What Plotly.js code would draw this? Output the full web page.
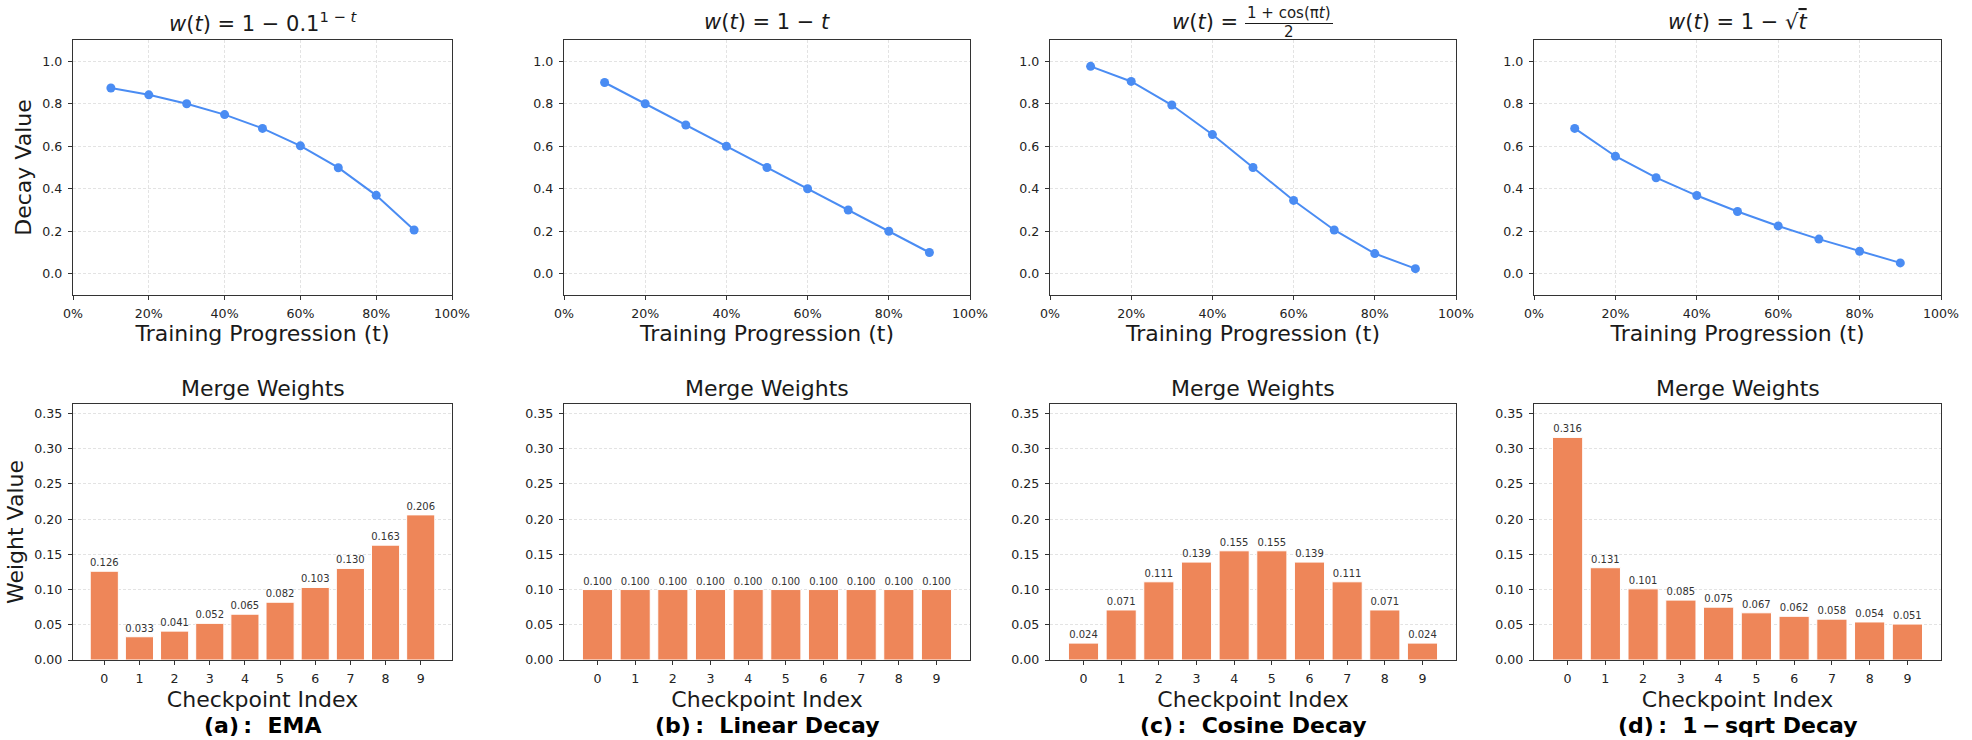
<!DOCTYPE html>
<html>
<head>
<meta charset="utf-8">
<script src="https://cdn.plot.ly/plotly-3.0.1.min.js"></script>
<style>
html,body{margin:0;padding:0;background:#fff;}
#chart{width:1972px;height:740px;}
</style>
</head>
<body>
<div id="chart"></div>
<script>
// ---------- data ----------
const progress = [0.1, 0.2, 0.3, 0.4, 0.5, 0.6, 0.7, 0.8, 0.9];
const decayEMA    = [0.874, 0.842, 0.800, 0.749, 0.684, 0.602, 0.499, 0.369, 0.206];
const decayLinear = [0.900, 0.800, 0.700, 0.600, 0.500, 0.400, 0.300, 0.200, 0.100];
const decayCosine = [0.976, 0.905, 0.794, 0.655, 0.500, 0.345, 0.206, 0.095, 0.024];
const decaySqrt   = [0.684, 0.553, 0.452, 0.368, 0.293, 0.225, 0.163, 0.106, 0.051];

const checkpoints = [0, 1, 2, 3, 4, 5, 6, 7, 8, 9];
const weightsEMA    = [0.126, 0.033, 0.041, 0.052, 0.065, 0.082, 0.103, 0.130, 0.163, 0.206];
const weightsLinear = [0.100, 0.100, 0.100, 0.100, 0.100, 0.100, 0.100, 0.100, 0.100, 0.100];
const weightsCosine = [0.024, 0.071, 0.111, 0.139, 0.155, 0.155, 0.139, 0.111, 0.071, 0.024];
const weightsSqrt   = [0.316, 0.131, 0.101, 0.085, 0.075, 0.067, 0.062, 0.058, 0.054, 0.051];

const progressTicks = [0, 0.2, 0.4, 0.6, 0.8, 1.0];
const decayTicks = [0, 0.2, 0.4, 0.6, 0.8, 1.0];
const weightTicks = [0, 0.05, 0.10, 0.15, 0.20, 0.25, 0.30, 0.35];

const panelLabels = [
  "(a)\u2009:\u00a0\u00a0EMA",
  "(b)\u2009:\u00a0\u00a0Linear Decay",
  "(c)\u2009:\u00a0\u00a0Cosine Decay",
  "(d)\u2009:\u00a0\u00a01\u2009\u2212\u2009sqrt Decay"
];
const decaySeries = [decayEMA, decayLinear, decayCosine, decaySqrt];
const weightSeries = [weightsEMA, weightsLinear, weightsCosine, weightsSqrt];

// ---------- layout helpers ----------
const W = 1972, H = 740;
const FONT = "DejaVu Sans, Liberation Sans, sans-serif";
const LINE_COLOR = "#4a8cf3";
const BAR_COLOR = "#ee8659";
const TXT = "#1a1a1a";
const colsPx = [[73, 452], [564, 970], [1050, 1456], [1534, 1941]];
const topRowPx = [40, 295];
const botRowPx = [404, 660];
const pxX = x => x / W;
const pxY = y => 1 - y / H;

const traces = [];
const layout = {
  width: W, height: H,
  margin: {l: 0, r: 0, t: 0, b: 0},
  paper_bgcolor: "#ffffff",
  plot_bgcolor: "#ffffff",
  showlegend: false,
  font: {family: FONT, color: TXT, size: 12.6},
  annotations: [],
  shapes: []
};

function axisBase() {
  return {
    showline: true, mirror: true, linecolor: "#333333", linewidth: 1.2,
    ticks: "outside", ticklen: 4, tickwidth: 1, tickcolor: "#333333",
    ticklabelstandoff: 3,
    tickfont: {family: FONT, size: 12.6, color: "#222222"},
    zeroline: false, fixedrange: true,
    gridcolor: "#dcdcdc", gridwidth: 0.8, griddash: "3px,2px"
  };
}

for (let i = 0; i < 4; i++) {
  const n = i + 1, m = i + 5;
  const xs = n === 1 ? "" : String(n);
  const xb = String(m);
  const dom = [pxX(colsPx[i][0]), pxX(colsPx[i][1])];

  // top: decay curve
  traces.push({
    type: "scatter", mode: "lines+markers",
    x: progress, y: decaySeries[i],
    xaxis: "x" + xs, yaxis: "y" + xs,
    line: {color: LINE_COLOR, width: 2},
    marker: {color: LINE_COLOR, size: 9},
    cliponaxis: false, hoverinfo: "x+y"
  });
  layout["xaxis" + xs] = Object.assign(axisBase(), {
    domain: dom, anchor: "y" + xs, range: [0, 1],
    tickvals: progressTicks, tickformat: ".0%", showgrid: true,
    title: {text: "Training Progression (t)", font: {family: FONT, size: 22, color: TXT}, standoff: 5}
  });
  const yTop = Object.assign(axisBase(), {
    domain: [pxY(topRowPx[1]), pxY(topRowPx[0])], anchor: "x" + xs,
    range: [-0.1, 1.1], tickvals: decayTicks, tickformat: ".1f", showgrid: true
  });
  if (i === 0) yTop.title = {text: "Decay Value", font: {family: FONT, size: 22, color: TXT}, standoff: 4};
  layout["yaxis" + xs] = yTop;

  // bottom: merge weights
  traces.push({
    type: "bar", x: checkpoints, y: weightSeries[i],
    xaxis: "x" + xb, yaxis: "y" + xb,
    width: 0.8,
    marker: {color: BAR_COLOR, line: {color: "#ffffff", width: 1}},
    text: weightSeries[i].map(v => v.toFixed(3)),
    textposition: "outside", constraintext: "none", cliponaxis: false,
    textfont: {family: FONT, size: 10, color: "#333333"},
    hoverinfo: "x+y"
  });
  layout["xaxis" + xb] = Object.assign(axisBase(), {
    domain: dom, anchor: "y" + xb, range: [-0.89, 9.89],
    tickvals: checkpoints, showgrid: false,
    title: {text: "Checkpoint Index", font: {family: FONT, size: 22, color: TXT}, standoff: 6}
  });
  const yBot = Object.assign(axisBase(), {
    domain: [pxY(botRowPx[1]), pxY(botRowPx[0])], anchor: "x" + xb,
    range: [0, 0.3634], tickvals: weightTicks, tickformat: ".2f", showgrid: true
  });
  if (i === 0) yBot.title = {text: "Weight Value", font: {family: FONT, size: 22, color: TXT}, standoff: 4};
  layout["yaxis" + xb] = yBot;

  const cx = pxX((colsPx[i][0] + colsPx[i][1]) / 2);
  layout.annotations.push({
    xref: "paper", yref: "paper", x: cx, y: pxY(388), xanchor: "center", yanchor: "middle",
    text: "Merge Weights", showarrow: false, font: {family: FONT, size: 22, color: TXT}
  });
  layout.annotations.push({
    xref: "paper", yref: "paper", x: cx, y: pxY(725), xanchor: "center", yanchor: "middle",
    text: "<b>" + panelLabels[i] + "</b>", showarrow: false, font: {family: FONT, size: 22, color: "#000"}
  });
}

// formula titles
const titleFont = {family: FONT, size: 21, color: TXT};
function colCenter(i) { return pxX((colsPx[i][0] + colsPx[i][1]) / 2); }
layout.annotations.push({
  xref: "paper", yref: "paper", x: colCenter(0), y: pxY(22), xanchor: "center", yanchor: "middle",
  showarrow: false, font: titleFont,
  text: "<i>w</i>(<i>t</i>) = 1 \u2212 0.1<sup>1 \u2212 <i>t</i></sup>"
});
layout.annotations.push({
  xref: "paper", yref: "paper", x: colCenter(1), y: pxY(22), xanchor: "center", yanchor: "middle",
  showarrow: false, font: titleFont,
  text: "<i>w</i>(<i>t</i>) = 1 \u2212 <i>t</i>"
});
// cosine: fraction
layout.annotations.push({
  xref: "paper", yref: "paper", x: pxX(1240), y: pxY(22), xanchor: "right", yanchor: "middle",
  showarrow: false, font: titleFont,
  text: "<i>w</i>(<i>t</i>) ="
});
layout.annotations.push({
  xref: "paper", yref: "paper", x: pxX(1289), y: pxY(13), xanchor: "center", yanchor: "middle",
  showarrow: false, font: {family: FONT, size: 15, color: TXT},
  text: "1 + cos(\u03c0<i>t</i>)"
});
layout.annotations.push({
  xref: "paper", yref: "paper", x: pxX(1289), y: pxY(32), xanchor: "center", yanchor: "middle",
  showarrow: false, font: {family: FONT, size: 15, color: TXT},
  text: "2"
});
layout.shapes.push({
  type: "line", xref: "paper", yref: "paper",
  x0: pxX(1245), x1: pxX(1333), y0: pxY(23.5), y1: pxY(23.5),
  line: {color: TXT, width: 1}
});
layout.annotations.push({
  xref: "paper", yref: "paper", x: colCenter(3), y: pxY(22), xanchor: "center", yanchor: "middle",
  showarrow: false, font: titleFont,
  text: "<i>w</i>(<i>t</i>) = 1 \u2212 \u221a<span style=\"text-decoration:overline\"><i>t</i></span>"
});

Plotly.newPlot("chart", traces, layout, {staticPlot: true, displayModeBar: false});
</script>
</body>
</html>
